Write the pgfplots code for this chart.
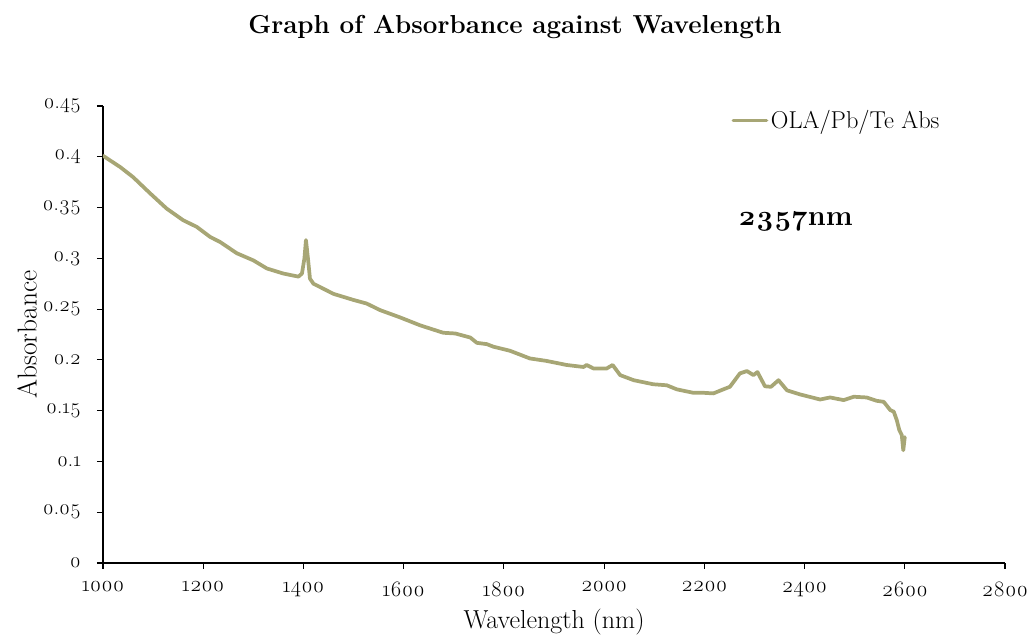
\documentclass[border=0pt]{standalone}
\usepackage{fontspec}
\setmainfont{Latin Modern Roman}[Numbers=OldStyle]
\usepackage{pgfplots}
\pgfplotsset{compat=1.18}
\definecolor{olive}{RGB}{167,166,117}
\begin{document}
\begin{tikzpicture}
\useasboundingbox (-77.25pt,-56.25pt) rectangle (696pt,422.25pt);
\begin{axis}[
  scale only axis,
  width=676.5pt, height=342.75pt,
  xmin=1000, xmax=2800, ymin=0, ymax=0.45,
  xtick={1000,1200,...,2800},
  ytick={0,0.05,...,0.45},
  axis x line=bottom, axis y line=left,
  axis line style={-, black, line width=0.9pt},
  tick style={black, line width=0.9pt},
  tick align=outside, major tick length=4.5pt,
  /pgf/number format/assume math mode=true,
  xticklabel style={font=\fontsize{16.5}{18}\selectfont, /pgf/number format/1000 sep={}, yshift=-6pt},
  yticklabel style={font=\fontsize{15.8}{18}\selectfont, /pgf/number format/fixed, /pgf/number format/precision=2, xshift=-8.5pt},
  xlabel={Wavelength (nm)},
  ylabel={Absorbance},
  xlabel style={font=\fontsize{19.5}{22}\selectfont, at={(rel axis cs:0.5,0)}, anchor=center, yshift=-44pt},
  ylabel style={font=\fontsize{20.5}{22}\selectfont, at={([xshift=-57pt]rel axis cs:0,0.5)}, anchor=center},
  legend style={draw=none, fill=none, at={(rel axis cs:0.695,1.0)}, anchor=north west, font=\fontsize{18.3}{20}\selectfont, inner sep=1pt},
  legend cell align=left,
  legend image code/.code={\draw[#1, line width=2.6pt] (0pt,0pt) -- (25pt,0pt);},
]
\addplot[color=olive, line width=2.8pt, line join=round, line cap=round] coordinates {
(1000,0.401) (1034,0.390) (1060,0.380) (1094,0.364) (1127,0.349) (1160,0.3375)
(1187,0.331) (1214,0.321) (1234,0.316) (1267,0.305) (1300,0.298) (1327,0.290)
(1360,0.285) (1390,0.282) (1397,0.285) (1402,0.300) (1405,0.318) (1409,0.300)
(1413,0.280) (1420,0.275) (1460,0.265) (1500,0.259) (1526,0.2555) (1553,0.249)
(1593,0.2418) (1633,0.234) (1679,0.2267) (1703,0.226) (1733,0.222) (1746,0.2168)
(1766,0.2155) (1779,0.213) (1812,0.209) (1852,0.2014) (1885,0.199) (1925,0.195)
(1959,0.193) (1965,0.195) (1979,0.1915) (2005,0.1915) (2017,0.195) (2032,0.185)
(2059,0.180) (2098,0.176) (2125,0.175) (2145,0.171) (2178,0.1676) (2198,0.1676)
(2218,0.167) (2238,0.171) (2251,0.1735) (2271,0.1867) (2285,0.189) (2298,0.185)
(2306,0.188) (2321,0.174) (2333,0.1735) (2348,0.180) (2365,0.170) (2391,0.166)
(2431,0.161) (2451,0.163) (2478,0.1604) (2498,0.1637) (2524,0.163) (2544,0.1597)
(2558,0.1587) (2571,0.1506) (2578,0.149) (2584,0.1407) (2589,0.131) (2594,0.126)
(2597,0.111) (2600,0.124)
};
\addlegendentry{OLA/Pb/Te Abs}
\node[anchor=west, font=\bfseries\fontsize{21.5}{24}\selectfont, inner sep=0pt] at (axis cs:2267,0.336) {2357nm};
\end{axis}
\node[font=\bfseries\fontsize{19.5}{22}\selectfont] at (309pt,402pt) {Graph of Absorbance against Wavelength};
\end{tikzpicture}
\end{document}
